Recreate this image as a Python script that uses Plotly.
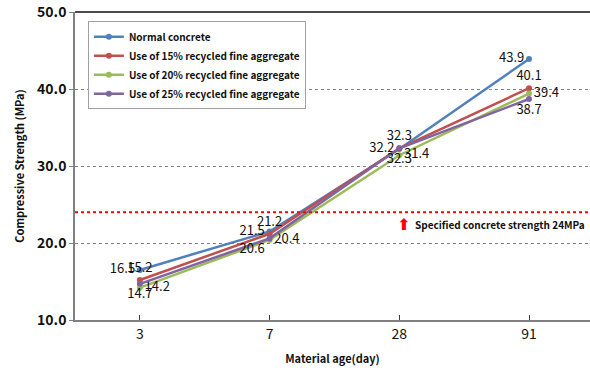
import plotly.graph_objects as go

# Compressive strength by material age
ages = ["3", "7", "28", "91"]
normal = [16.5, 21.5, 32.2, 43.9]
rfa15 = [15.2, 21.2, 32.3, 40.1]
rfa20 = [14.2, 20.4, 31.4, 39.4]
rfa25 = [14.7, 20.6, 32.3, 38.7]
spec_strength = 24

series = [
    ("Normal concrete", normal, "#4F81BD", ["middle left"] * 4),
    ("Use of 15% recycled fine aggregate", rfa15, "#C0504D", ["top center"] * 4),
    ("Use of 20% recycled fine aggregate", rfa20, "#9BBB59", ["middle right"] * 4),
    ("Use of 25% recycled fine aggregate", rfa25, "#8064A2",
     ["bottom center", "bottom left", "bottom center", "bottom center"]),
]

FONT = "Noto Sans CJK KR"

fig = go.Figure()
for name, vals, color, pos in series:
    fig.add_trace(go.Scatter(
        x=ages, y=vals, name=f"<b>{name}</b>", mode="lines+markers+text",
        line=dict(color=color, width=2.5),
        marker=dict(color=color, size=6),
        text=[f"{v:.1f}" for v in vals],
        textposition=pos,
        textfont=dict(family=FONT, size=13, color="#111111"),
        cliponaxis=False,
    ))

# specified design strength reference line
fig.add_hline(y=spec_strength, line=dict(color="#FF0000", width=2, dash="dot"))
fig.add_annotation(
    x=0.995, xref="paper", y=spec_strength, yref="y", yshift=-12,
    xanchor="right", yanchor="middle",
    text="<b>Specified concrete strength 24MPa</b>", showarrow=False,
    font=dict(family=FONT, size=10, color="#111111"),
)
fig.add_annotation(
    x=0.638, xref="paper", y=spec_strength, yref="y", yshift=-12,
    xanchor="center", yanchor="middle",
    text="<b>⬆</b>", showarrow=False,
    font=dict(family="DejaVu Sans", size=16, color="#FF0000"),
)

# top border of the plot area
fig.add_shape(type="line", xref="paper", yref="paper", x0=0, x1=1, y0=1, y1=1,
              line=dict(color="#111111", width=1.5))

fig.update_layout(
    width=590, height=380,
    margin=dict(l=75, r=0, t=12, b=60),
    paper_bgcolor="white", plot_bgcolor="white",
    font=dict(family=FONT, color="#111111"),
    showlegend=True,
    legend=dict(
        x=0.025, y=0.97, xanchor="left", yanchor="top",
        bgcolor="white", bordercolor="#A0A0A0", borderwidth=1,
        font=dict(family=FONT, size=10, color="#111111"),
        itemwidth=30, tracegroupgap=2,
    ),
    xaxis=dict(
        type="category", range=[-0.5, 3.47],
        showgrid=False, showline=True, linecolor="#808080", linewidth=1.5,
        ticks="inside", ticklen=5, tickcolor="#404040",
        tickfont=dict(family=FONT, size=14, color="#111111"),
        title=dict(text="<b>Material age(day)</b>", font=dict(family=FONT, size=11),
                   standoff=14),
    ),
    yaxis=dict(
        range=[10, 50], tickvals=[10, 20, 30, 40, 50],
        ticktext=["<b>10.0</b>", "<b>20.0</b>", "<b>30.0</b>", "<b>40.0</b>", "<b>50.0</b>"],
        showgrid=True, gridcolor="#808080", griddash="dot", gridwidth=1,
        showline=True, linecolor="#808080", linewidth=1.5,
        ticks="outside", ticklen=4, tickcolor="#808080",
        tickfont=dict(family=FONT, size=14, color="#111111"),
        zeroline=False,
        title=dict(text="<b>Compressive Strength (MPa)</b>", font=dict(family=FONT, size=11),
                   standoff=10),
    ),
)

fig.write_html("out.html")
